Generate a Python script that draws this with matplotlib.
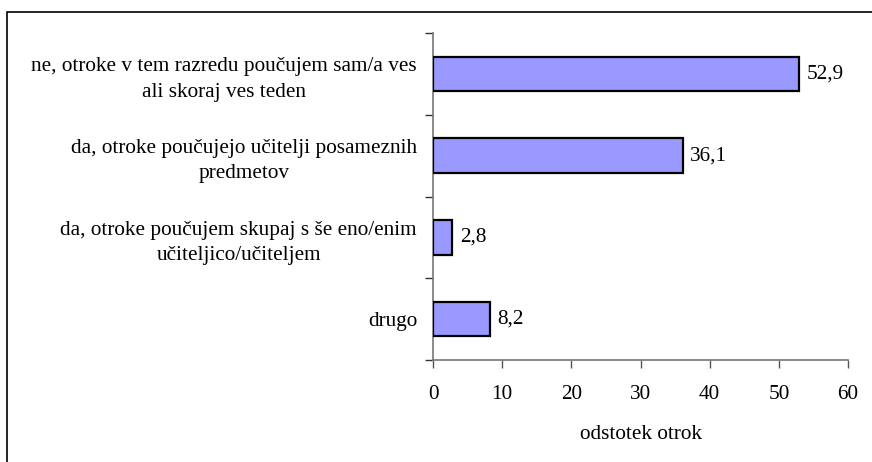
import matplotlib

matplotlib.use("Agg")
import matplotlib.pyplot as plt
from matplotlib.patches import Rectangle

categories = [
    "ne, otroke v tem razredu poučujem sam/a ves\nali skoraj ves teden",
    "da, otroke poučujejo učitelji posameznih\npredmetov",
    "da, otroke poučujem skupaj s še eno/enim\nučiteljico/učiteljem",
    "drugo",
]
values = [52.9, 36.1, 2.8, 8.2]
value_labels = ["52,9", "36,1", "2,8", "8,2"]
x_ticks = [0, 10, 20, 30, 40, 50, 60]

plt.rcParams["font.family"] = ["Liberation Serif", "DejaVu Serif"]
FS = 15.3

W, H = 872, 462
fig = plt.figure(figsize=(W / 100, H / 100), dpi=100)

# outer chart frame (only left and top edges fall inside the image)
fig.patches.append(Rectangle((7 / W, -0.1), 1.2, 1.1 - 12.5 / H, transform=fig.transFigure,
                             fill=False, edgecolor="black", lw=1.2))

ax = fig.add_axes([433 / W, 1 - 360 / H, 415 / W, 327 / H])

y = list(range(len(categories)))[::-1]
ax.barh(y, values, height=0.42, color="#9999ff", edgecolor="black", lw=1.6, zorder=3)
for yi, v, lab in zip(y, values, value_labels):
    ax.text(v + 1.1, yi, lab, va="center", ha="left", fontsize=FS)

ax.set_xlim(0, 60)
ax.set_ylim(-0.5, len(categories) - 0.5)
ax.set_xticks(x_ticks)
ax.set_xticklabels([str(t) for t in x_ticks], fontsize=FS)
ax.tick_params(axis="x", direction="out", length=6, width=1, color="#555555", pad=12)

ax.set_yticks(y)
ax.set_yticklabels(categories, fontsize=FS, multialignment="center", linespacing=1.45)
ax.tick_params(axis="y", which="major", length=0, pad=11.5)
ax.set_yticks([i - 0.5 for i in range(len(categories) + 1)], minor=True)
ax.tick_params(axis="y", which="minor", direction="out", length=6, width=1, color="#333333")

for s in ["top", "right"]:
    ax.spines[s].set_visible(False)
for s in ["left", "bottom"]:
    ax.spines[s].set_color("#777777")
    ax.spines[s].set_linewidth(1.2)

ax.set_xlabel("odstotek otrok", fontsize=FS, labelpad=15)

fig.savefig("out.png", dpi=100)
